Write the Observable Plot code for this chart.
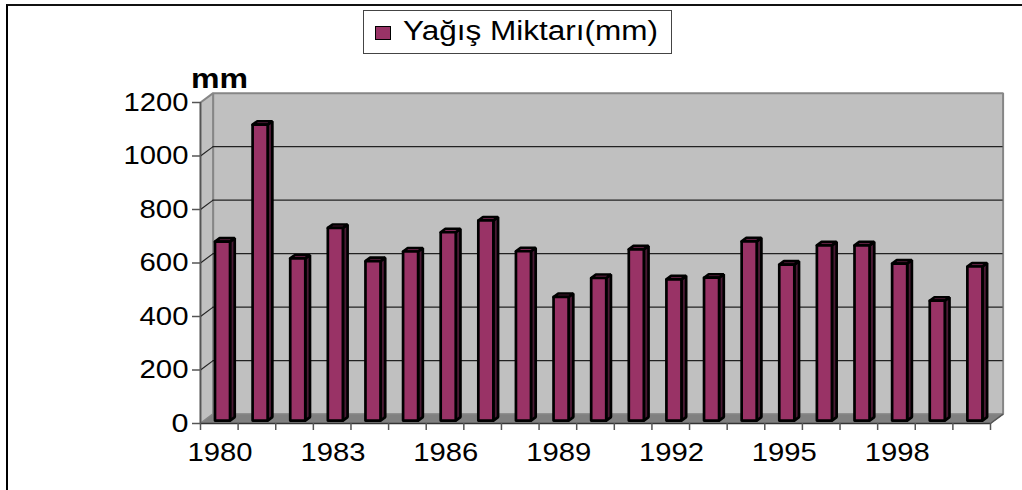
<!DOCTYPE html>
<html><head><meta charset="utf-8">
<style>
html,body{margin:0;padding:0;background:#fff}
#chart{position:relative;width:1022px;height:490px;overflow:hidden;font-family:"Liberation Sans",Arial,sans-serif}
#frame{position:absolute;left:6px;top:4px;width:1016px;height:486px;border-left:2px solid #000;border-top:2px solid #111;box-sizing:border-box;pointer-events:none}
#legend{position:relative;height:60px}
#box{position:absolute;left:363px;top:10px;width:309px;height:44px;border:1px solid #444;box-sizing:border-box}
#sw{position:absolute;left:375px;top:26px;width:16px;height:14px;background:#993366;border:1.5px solid #000;box-sizing:border-box}
#lt{position:absolute;left:403px;top:15px;font-size:27px;line-height:32px;white-space:nowrap;color:#000;transform-origin:left center}
svg{display:block}
</style>
<script src="https://cdn.jsdelivr.net/npm/d3@7"></script>
<script src="https://cdn.jsdelivr.net/npm/@observablehq/plot@0.6"></script>
</head><body>
<div id="chart">
  <div id="legend"><div id="box"></div><div id="sw"></div><div id="lt">Yağış Miktarı(mm)</div></div>
  <div id="frame"></div>
</div>
<script>
const years = [1980,1981,1982,1983,1984,1985,1986,1987,1988,1989,1990,1991,1992,1993,1994,1995,1996,1997,1998,1999,2000];
const rainfall = [669,1106,606,720,596,632,704,748,633,462,533,640,528,534,670,583,655,655,587,448,576];
const labelledYears = [1980,1983,1986,1989,1992,1995,1998];
const yTicks = [0,200,400,600,800,1000,1200];
const seriesName = "Yağış Miktarı(mm)";
const unitLabel = "mm";

// 3-D look, in scale units
const depthX = 0.335, depthY = 35;   // wall depth
const barL = 0.385, barR = 0.785;    // bar span inside a category
const barDX = 0.125, barDY = 13;     // bar depth
const lift = 11;                     // bars stand slightly behind the front edge
const xMax = years.length, yMax = 1200;

const poly = (id, pts) => pts.map(([x,y]) => ({id,x,y}));
const face = (pts, o) => Plot.line(poly(0, [...pts, pts[0]]), {x:"x", y:"y", z:"id", curve:"linear", strokeLinejoin:"miter", ...o});

const fronts = [], sides = [], tops = [];
years.forEach((yr,i) => {
  const v = rainfall[i] + lift, a = i+barL, b = i+barR;
  fronts.push(...poly(yr, [[a,lift],[a,v],[b,v],[b,lift],[a,lift]]));
  sides.push(...poly(yr, [[b,lift],[b,v],[b+barDX,v+barDY],[b+barDX,lift+barDY],[b,lift]]));
  tops.push(...poly(yr, [[a,v],[a+barDX,v+barDY],[b+barDX,v+barDY],[b,v],[a,v]]));
});
const barFace = (d,fill) => Plot.line(d, {x:"x", y:"y", z:"id", curve:"linear", fill, stroke:"#000", strokeWidth:2.7, strokeLinejoin:"miter"});

const wallGray = "#c0c0c0", edgeGray = "#868686";
const plot = Plot.plot({
  width:1022, height:430,
  marginLeft:200, marginRight:32, marginTop:42, marginBottom:67,
  style:{fontFamily:"'Liberation Sans',Arial,sans-serif", fontSize:"26px", color:"#000", background:"transparent", overflow:"visible"},
  x:{type:"linear", domain:[0,xMax], axis:null},
  y:{type:"linear", domain:[0,yMax], axis:null},
  marks:[
    // back wall, side wall, floor
    face([[depthX,depthY],[depthX,yMax+depthY],[xMax+depthX,yMax+depthY],[xMax+depthX,depthY]], {fill:wallGray, stroke:edgeGray, strokeWidth:2}),
    face([[0,0],[0,yMax],[depthX,yMax+depthY],[depthX,depthY]], {fill:wallGray, stroke:edgeGray, strokeWidth:2}),
    face([[0,0],[depthX,depthY],[xMax+depthX,depthY],[xMax,0]], {fill:"#808080", stroke:edgeGray, strokeWidth:1}),
    // gridlines on both walls
    Plot.ruleY(yTicks.slice(1,-1), {x1:depthX, x2:xMax+depthX, y:d=>d+depthY, stroke:"#222", strokeWidth:1.2}),
    Plot.link(yTicks.slice(1,-1), {x1:0, x2:depthX, y1:d=>d, y2:d=>d+depthY, stroke:"#222", strokeWidth:1.2}),
    // bars
    barFace(sides,"#4a1a34"),
    barFace(tops,"#7d2a55"),
    barFace(fronts,"#993366"),
    // axis lines
    Plot.ruleY([0], {x1:0, x2:xMax, stroke:"#333", strokeWidth:1.5}),
    Plot.ruleX([0], {y1:0, y2:yMax, stroke:"#555", strokeWidth:1.5}),
    Plot.axisY({ticks:yTicks, anchor:"left", tickSize:8, tickPadding:4, stroke:"#555", strokeWidth:1.5, fontSize:26, textStroke:"none", tickFormat:d=>String(d), label:null}),
    Plot.axisX({ticks:d3.range(0,xMax+1), anchor:"bottom", tickSize:7, tickFormat:()=>"", stroke:"#555", strokeWidth:1.5, label:null}),
    Plot.axisX({ticks:labelledYears.map(y=>years.indexOf(y)+0.52), anchor:"bottom", tickSize:0, tickPadding:19, fontSize:26, tickFormat:p=>String(years[Math.floor(p)]), label:null}),
    Plot.link([xMax], {x1:d=>d, x2:d=>d+depthX, y1:0, y2:depthY, stroke:"#555", strokeWidth:1.5}),
    Plot.text([unitLabel], {x:0, y:yMax, dx:19, dy:-23, text:d=>d, fontSize:27, fontWeight:"bold", fill:"#000", textAnchor:"middle", className:"unit"})
  ]
});
document.getElementById("chart").insertBefore(plot, document.getElementById("frame"));

// the reference's type is stretched wide: fit real text to its measured width
plot.querySelectorAll("text").forEach(t => {
  const s = t.textContent.trim();
  if (!s) return;
  const w = s === unitLabel ? 57 : s.length === 4 ? 65 : s.length === 3 ? 49 : 17;
  t.setAttribute("textLength", w);
  t.setAttribute("lengthAdjust", "spacingAndGlyphs");
  t.querySelectorAll("tspan").forEach(p => { p.setAttribute("textLength", w); p.setAttribute("lengthAdjust", "spacingAndGlyphs"); });
});
const lt = document.getElementById("lt");
lt.style.transform = `scaleX(${255 / lt.getBoundingClientRect().width})`;
</script>
</body></html>
